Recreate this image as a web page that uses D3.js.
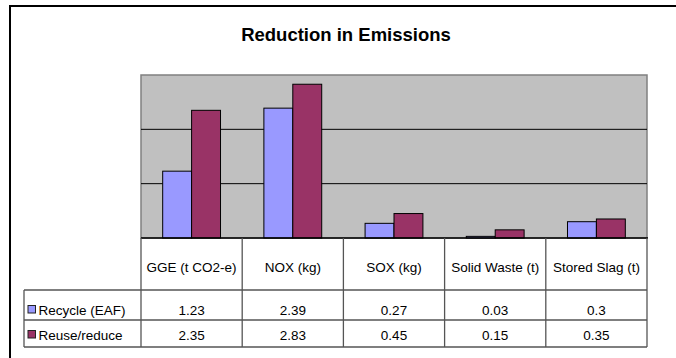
<!DOCTYPE html>
<html>
<head>
<meta charset="utf-8">
<script src="https://cdn.jsdelivr.net/npm/d3@7"></script>
<style>
  body { margin: 0; background: #fff; }
  svg text { font-family: "Liberation Sans", Arial, sans-serif; }
</style>
</head>
<body>
<div id="chart"></div>
<script>
const width = 676;
const height = 358;

// data
const categories = ["GGE (t CO2-e)", "NOX (kg)", "SOX (kg)", "Solid Waste (t)", "Stored Slag (t)"];
const seriesNames = ["Recycle (EAF)", "Reuse/reduce"];
const recycle = [1.23, 2.39, 0.27, 0.03, 0.3];
const reuse = [2.35, 2.83, 0.45, 0.15, 0.35];
const valueLabels = [
    ["1.23", "2.39", "0.27", "0.03", "0.3"],
    ["2.35", "2.83", "0.45", "0.15", "0.35"]
];
const yTicks = [0, 1, 2, 3];
const colors = ["#9999FF", "#993366"];

const series = [recycle, reuse];

const plot = { left: 141, right: 647, top: 75, bottom: 238 };
const table = { left: 24, headBottom: 290, row1: 320, bottom: 347 };

const svg = d3.select("#chart").append("svg")
    .attr("width", width)
    .attr("height", height);

// outer chart frame (runs off the picture on right/bottom)
svg.append("rect")
    .attr("x", 10).attr("y", 6)
    .attr("width", 700).attr("height", 400)
    .attr("fill", "#fff")
    .attr("stroke", "#000")
    .attr("stroke-width", 2);

svg.append("text")
    .attr("x", 346).attr("y", 41)
    .attr("text-anchor", "middle")
    .attr("font-size", 18.5)
    .attr("font-weight", "bold")
    .text("Reduction in Emissions");

const x0 = d3.scaleBand()
    .domain(categories)
    .range([plot.left, plot.right])
    .padding(0);

const x1 = d3.scaleBand()
    .domain(seriesNames)
    .range([0, x0.bandwidth()])
    .paddingInner(0)
    .paddingOuter(0.75);

const y = d3.scaleLinear()
    .domain([0, 3])
    .range([plot.bottom, plot.top]);

// plot area
svg.append("rect")
    .attr("x", plot.left).attr("y", plot.top)
    .attr("width", plot.right - plot.left)
    .attr("height", plot.bottom - plot.top)
    .attr("fill", "#C0C0C0")
    .attr("stroke", "#808080")
    .attr("stroke-width", 1.5);

// gridlines
svg.selectAll(".grid")
    .data(yTicks.filter(d => d > 0 && d < 3))
    .enter()
    .append("line")
    .attr("class", "grid")
    .attr("x1", plot.left).attr("x2", plot.right)
    .attr("y1", d => y(d)).attr("y2", d => y(d))
    .attr("stroke", "#000")
    .attr("stroke-width", 1);

// bars
const groups = svg.selectAll(".cat")
    .data(categories)
    .enter()
    .append("g")
    .attr("class", "cat")
    .attr("transform", d => `translate(${x0(d)},0)`);

groups.selectAll("rect")
    .data((d, i) => seriesNames.map((s, j) => ({ s: s, v: series[j][i], j: j })))
    .enter()
    .append("rect")
    .attr("x", d => x1(d.s))
    .attr("y", d => y(d.v))
    .attr("width", x1.bandwidth())
    .attr("height", d => y(0) - y(d.v))
    .attr("fill", d => colors[d.j])
    .attr("stroke", "#000")
    .attr("stroke-width", 1);

// category axis line
svg.append("line")
    .attr("x1", plot.left).attr("x2", plot.right + 1)
    .attr("y1", plot.bottom).attr("y2", plot.bottom)
    .attr("stroke", "#000")
    .attr("stroke-width", 1.5);

// data table
const tableLine = "#555";

// vertical dividers through header and rows
const divX = categories.map(c => x0(c)).concat([plot.right]);
svg.selectAll(".vdiv")
    .data(divX)
    .enter()
    .append("line")
    .attr("x1", d => d).attr("x2", d => d)
    .attr("y1", plot.bottom).attr("y2", table.bottom)
    .attr("stroke", tableLine)
    .attr("stroke-width", 1.3);

// horizontal rows
[table.headBottom, table.row1, table.bottom].forEach(yy => {
    svg.append("line")
        .attr("x1", table.left).attr("x2", plot.right)
        .attr("y1", yy).attr("y2", yy)
        .attr("stroke", tableLine)
        .attr("stroke-width", 1.3);
});
svg.append("line")
    .attr("x1", table.left).attr("x2", table.left)
    .attr("y1", table.headBottom).attr("y2", table.bottom)
    .attr("stroke", tableLine)
    .attr("stroke-width", 1.3);

// header labels
svg.selectAll(".catlabel")
    .data(categories)
    .enter()
    .append("text")
    .attr("x", d => x0(d) + x0.bandwidth() / 2)
    .attr("y", 272)
    .attr("text-anchor", "middle")
    .attr("font-size", 13.5)
    .text(d => d);

// value rows
const rowBase = [315, 340];
valueLabels.forEach((row, j) => {
    svg.selectAll(".val" + j)
        .data(row)
        .enter()
        .append("text")
        .attr("x", (d, i) => x0(categories[i]) + x0.bandwidth() / 2)
        .attr("y", rowBase[j])
        .attr("text-anchor", "middle")
        .attr("font-size", 13.5)
        .text(d => d);

    svg.append("rect")
        .attr("x", 28).attr("y", rowBase[j] - 9.5)
        .attr("width", 7.5).attr("height", 7.5)
        .attr("fill", colors[j])
        .attr("stroke", "#222")
        .attr("stroke-width", 1);

    svg.append("text")
        .attr("x", 38.5).attr("y", rowBase[j])
        .attr("font-size", 13.5)
        .text(seriesNames[j]);
});
</script>
</body>
</html>
